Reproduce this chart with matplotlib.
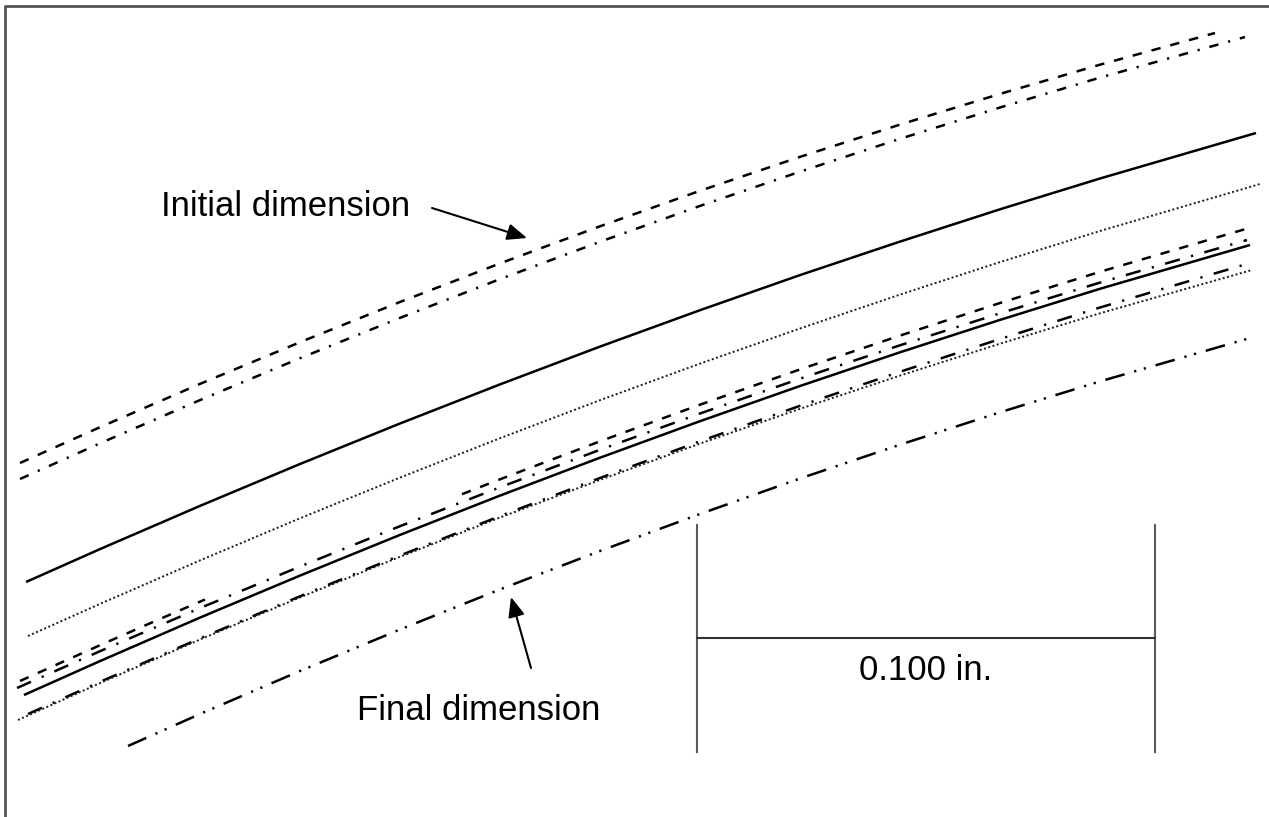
import matplotlib
matplotlib.use("Agg")
import matplotlib.pyplot as plt
import numpy as np

plt.rcParams['font.family'] = ['Liberation Sans', 'DejaVu Sans']
plt.rcParams['lines.scale_dashes'] = False

# profile traces (drawing units, y grows downward)
top_dashed_x = [20, 100, 200, 300, 400, 500, 600, 700, 800, 900, 1000, 1100, 1215]
top_dashed_y = [463, 427.2, 383.9, 342.2, 302.0, 263.4, 226.3, 190.8, 156.9, 124.6, 93.9, 64.7, 33]

top_dashdot_x = [20, 100, 200, 300, 400, 500, 600, 700, 800, 900, 1000, 1100, 1245]
top_dashdot_y = [479, 443.3, 400.1, 358.2, 317.9, 279.1, 241.8, 205.9, 171.7, 138.8, 107.5, 77.6, 37]

top_solid_x = [26, 100, 200, 300, 400, 500, 600, 700, 800, 900, 1000, 1100, 1256]
top_solid_y = [582, 549.1, 505.9, 464.0, 423.5, 384.4, 346.6, 310.2, 275.1, 241.6, 209.3, 178.5, 133]

top_dotted_x = [28, 100, 200, 300, 400, 500, 600, 700, 800, 900, 1000, 1100, 1260]
top_dotted_y = [636, 603.9, 560.4, 518.3, 477.6, 438.2, 400.2, 363.6, 328.5, 294.6, 262.1, 231.0, 184]

low_dashed_x = [20, 100, 150, 205, np.nan, 462, 500, 600, 700, 800, 900, 1000, 1100, 1249]
low_dashed_y = [681, 645.2, 623.3, 599.5, np.nan, 494.2, 479.3, 441.3, 404.7, 369.4, 335.6, 303.0, 271.8, 228]

low_dashdot_x = [17, 100, 200, 300, 400, 500, 600, 700, 800, 900, 1000, 1100, 1247]
low_dashdot_y = [688, 651.2, 608.1, 566.5, 526.2, 487.3, 449.8, 413.5, 378.7, 345.3, 313.3, 282.6, 240]

low_solid_x = [24, 100, 200, 300, 400, 500, 600, 700, 800, 900, 1000, 1100, 1250]
low_solid_y = [695, 661.1, 617.6, 575.6, 534.9, 495.6, 457.7, 421.2, 386.0, 352.3, 319.9, 288.8, 245]

low_dashdot2_x = [28, 100, 200, 300, 400, 500, 600, 700, 800, 900, 1000, 1100, 1250]
low_dashdot2_y = [714, 681.9, 638.4, 596.3, 555.5, 516.1, 478.0, 441.3, 405.8, 371.8, 339.0, 307.5, 263]

low_dotted_x = [18, 100, 200, 300, 400, 500, 600, 700, 800, 900, 1000, 1100, 1252]
low_dotted_y = [720, 683.1, 639.5, 597.4, 556.8, 517.5, 479.9, 443.6, 408.8, 375.6, 343.7, 313.3, 270]

final_x = [128, 200, 300, 400, 500, 600, 700, 800, 900, 1000, 1100, 1250]
final_y = [746, 714.0, 671.0, 629.5, 589.4, 551.0, 514.0, 478.5, 444.7, 412.3, 381.4, 338]

# scale bar: 0.100 in.
bar_left, bar_right = 697, 1155
bar_top, bar_bottom, bar_mid = 525, 752, 638
bar_label = "0.100 in."

fig = plt.figure(figsize=(12.69, 8.17), dpi=100)
ax = fig.add_axes([0, 0, 1, 1])
ax.set_xlim(0, 1269)
ax.set_ylim(817, 0)
ax.axis('off')

dashed = (0, (6.8, 7.2))
dashdot = (0, (6.8, 7.2, 1.6, 7.2))
longdashdot = (0, (11, 8.4, 1.6, 8.4))
dashdotdot = (0, (14.4, 7.2, 1.6, 5.6, 1.6, 7.2))
dotted = (0, (1.4, 1.8))

kw = dict(color='black', lw=1.8, dash_capstyle='butt', solid_capstyle='butt')
dot_kw = dict(color='#1a1a1a', lw=1.4, dash_capstyle='butt')
ax.plot(top_dashed_x, top_dashed_y, ls=dashed, **kw)
ax.plot(top_dashdot_x, top_dashdot_y, ls=dashdot, **kw)
ax.plot(top_solid_x, top_solid_y, ls='-', **kw)
ax.plot(top_dotted_x, top_dotted_y, ls=dotted, **dot_kw)
ax.plot(low_dashed_x, low_dashed_y, ls=dashed, **kw)
ax.plot(low_dashdot_x, low_dashdot_y, ls=longdashdot, **kw)
ax.plot(low_solid_x, low_solid_y, ls='-', **kw)
ax.plot(low_dashdot2_x, low_dashdot2_y, ls=longdashdot, **kw)
ax.plot(low_dotted_x, low_dotted_y, ls=dotted, **dot_kw)
ax.plot(final_x, final_y, ls=dashdotdot, **kw)

# scale bar
bar_color = '#5a5a5a'
ax.plot([bar_left, bar_left], [bar_top, bar_bottom], color=bar_color, lw=1.5)
ax.plot([bar_right, bar_right], [bar_top, bar_bottom], color=bar_color, lw=1.5)
ax.plot([bar_left, bar_right], [bar_mid, bar_mid], color='#333333', lw=1.5)
ax.text((bar_left + bar_right) / 2, 680, bar_label, fontsize=25,
        ha='center', va='baseline')

# labels with arrows
arrow = dict(arrowstyle='-|>,head_length=0.6,head_width=0.25', color='black',
             lw=1.5, mutation_scale=20, shrinkA=0, shrinkB=0)
ax.text(161, 216, "Initial dimension", fontsize=25, ha='left', va='baseline')
ax.annotate('', xy=(527, 238), xytext=(432, 208), arrowprops=arrow)
ax.text(357, 720, "Final dimension", fontsize=25, ha='left', va='baseline')
ax.annotate('', xy=(511, 597), xytext=(531, 668), arrowprops=arrow)

# frame on the left and top edges
ax.plot([5, 5], [5, 817], color='#555555', lw=2, solid_capstyle='butt')
ax.plot([5, 1269], [6, 6], color='#555555', lw=2, solid_capstyle='butt')

fig.savefig('out.png', dpi=100)
